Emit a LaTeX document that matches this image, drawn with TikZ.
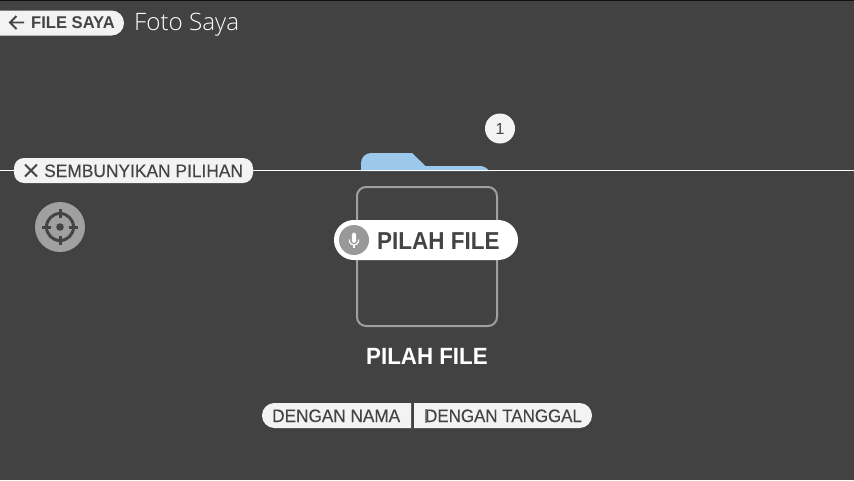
\documentclass[tikz,border=0pt]{standalone}
\usepackage{fontspec}
\setmainfont{Liberation Sans}
\newfontfamily\lightfont{Open Sans Light}
\newfontfamily\medfont[FakeBold=0.25]{Liberation Sans}
\definecolor{bg}{HTML}{424242}
\definecolor{pill}{HTML}{F3F3F3}
\definecolor{ink}{HTML}{444444}
\definecolor{greyc}{HTML}{A0A0A0}
\definecolor{folder}{HTML}{9CC8EC}
\tikzset{
  lab/.style={inner sep=0pt,anchor=base west,text=ink},
  pillbox/.style={fill=pill,draw=none},
  icon/.style={draw=ink,line width=1.9pt,line cap=butt},
}
\begin{document}
\begin{tikzpicture}[x=1pt,y=-1pt]
\useasboundingbox (0,0) rectangle (854,480);
\fill[bg] (0,0) rectangle (854,480);
\fill[black!75!bg] (0,0) rectangle (854,1);
% back pill
\fill[pillbox] (0,10.5) [rounded corners=12.4pt] -- (124,10.5) -- (124,35.5) [sharp corners] -- (0,35.5) -- cycle;
\draw[icon,line width=1.9pt] (24,22.5) -- (10,22.5) (16.5,16) -- (10,22.5) -- (16.5,29);
\node[lab,font=\fontsize{17}{17}\selectfont\bfseries,xscale=.975] (back) at (31,28.3) {FILE SAYA};
\node[inner sep=0pt,anchor=base west,text=white,font=\fontsize{24}{24}\lightfont,xscale=1.01] (title) at (134,30) {Foto Saya};
% folder
\fill[folder] (361,171) [rounded corners=10pt] -- (361,153) [sharp corners] -- (412,153) -- (425.5,166) -- (480,166) .. controls (484,166) and (487,168) .. (489,171) -- cycle;
% line
\draw[white,line width=1pt] (0,170.5) -- (854,170.5);
% badge
\node[circle,fill=pill,minimum size=30pt,inner sep=0pt,text=ink,font=\fontsize{16}{16}\selectfont] (badge) at (500,128.5) {1};
% hide pill
\fill[pillbox,rounded corners=10pt] (14,158) rectangle (253,183);
\draw[icon,line width=1.9pt] (25,164.5) -- (37,176.5) (37,164.5) -- (25,176.5);
\node[lab,font=\fontsize{18}{18}\medfont,xscale=.965] (hide) at (44,177) {SEMBUNYIKAN PILIHAN};
% target
\node[circle,fill=greyc,minimum size=50pt,inner sep=0pt] (target) at (60,227) {};
\draw[icon,line width=3pt] (60,227) circle[radius=13.5];
\fill[ink] (60,227) circle[radius=3.8];
\draw[icon,line width=3pt] (60,209) -- (60,218) (60,236) -- (60,245) (42,227) -- (51,227) (69,227) -- (78,227);
% box
\draw[greyc,line width=2pt,rounded corners=9pt] (357,187) rectangle (497,326);
% main pill
\fill[white,rounded corners=19.9pt] (334,220) rectangle (518,260);
\node[circle,fill=black!40!white,minimum size=30pt,inner sep=0pt] (mic) at (354,240) {};
\fill[white,rounded corners=1.8pt] (351.8,232.5) rectangle (356.2,243);
\draw[white,line width=1.2pt] (349.3,239.5) .. controls (349.3,247) and (358.7,247) .. (358.7,239.5);
\draw[white,line width=1.2pt] (354,245) -- (354,248);
\node[lab,font=\fontsize{24.5}{24}\selectfont\bfseries,xscale=.917] (sel) at (377,249) {PILAH FILE};
% caption
\node[inner sep=0pt,anchor=base west,text=white,font=\fontsize{23.5}{24}\selectfont\bfseries,xscale=.95] (cap) at (366,364) {PILAH FILE};
% buttons
\fill[pillbox] (411,403) [rounded corners=12.4pt] -- (262,403) -- (262,428) [sharp corners] -- (411,428) -- cycle;
\fill[pillbox] (414,403) [rounded corners=12.4pt] -- (592,403) -- (592,428) [sharp corners] -- (414,428) -- cycle;
\fill[greyc!70!ink] (425,408.5) rectangle (426.5,422.5);
\node[lab,font=\fontsize{18}{18}\medfont,xscale=.955] (bn) at (272,422) {DENGAN NAMA};
\node[lab,font=\fontsize{18}{18}\medfont,xscale=.94] (bd) at (425,422) {DENGAN TANGGAL};
\end{tikzpicture}
\end{document}
